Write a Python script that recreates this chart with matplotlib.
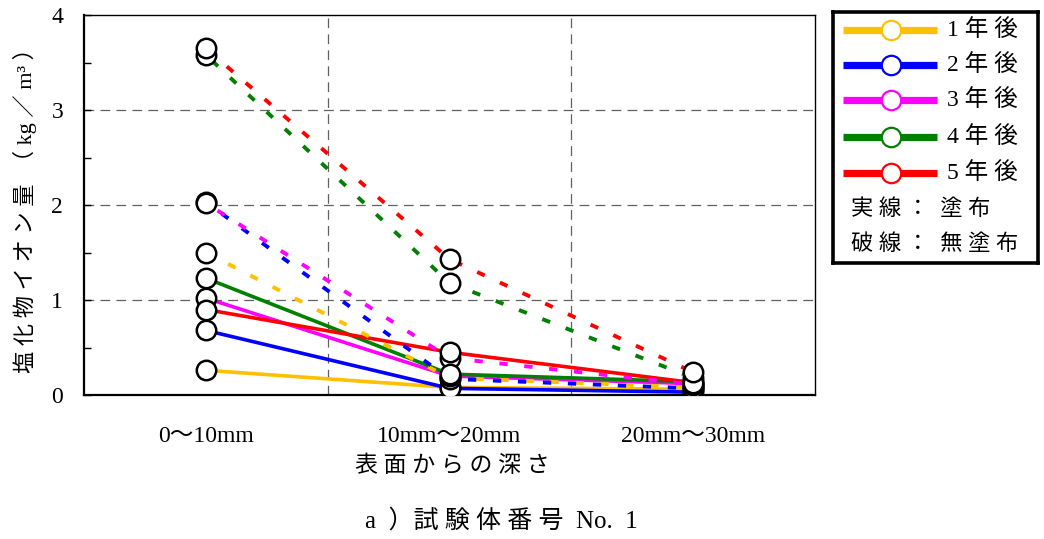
import matplotlib
matplotlib.use("Agg")
import matplotlib.pyplot as plt
import numpy as np

plt.rcParams['lines.scale_dashes'] = False
FAM = ['Liberation Serif', 'Noto Sans CJK JP', 'DejaVu Sans']
plt.rcParams['font.family'] = FAM

# ---- data ----
categories = ['0～10mm', '10mm～20mm', '20mm～30mm']
series_labels = ['1 年 後', '2 年 後', '3 年 後', '4 年 後', '5 年 後']
colors = ['#FFC000', '#0000FF', '#FF00FF', '#008000', '#FF0000']

coated_1 = [0.26, 0.08, 0.06]
coated_2 = [0.68, 0.07, 0.03]
coated_3 = [1.02, 0.20, 0.12]
coated_4 = [1.23, 0.22, 0.14]
coated_5 = [0.90, 0.45, 0.13]

uncoated_1 = [1.50, 0.18, 0.08]
uncoated_2 = [2.03, 0.17, 0.07]
uncoated_3 = [2.02, 0.39, 0.11]
uncoated_4 = [3.58, 1.18, 0.18]
uncoated_5 = [3.65, 1.43, 0.24]

coated = [coated_1, coated_2, coated_3, coated_4, coated_5]
uncoated = [uncoated_1, uncoated_2, uncoated_3, uncoated_4, uncoated_5]

yticks = [0, 1, 2, 3, 4]

W, H = 1044, 539
fig = plt.figure(figsize=(W / 100, H / 100), dpi=100)
L, R, T, B = 84, 815, 15, 395
ax = fig.add_axes([L / W, 1 - B / H, (R - L) / W, (B - T) / H])

x = np.arange(len(categories))
ax.set_xlim(-0.5, len(categories) - 0.5)
ax.set_ylim(0, 4)

# grid
for yv in [1, 2, 3]:
    ax.axhline(yv, color='#606060', lw=0.9, dashes=(7, 4.5), zorder=1)
for xv in [0.5, 1.5]:
    ax.axvline(xv, color='#606060', lw=0.9, dashes=(7, 4.5), zorder=1)

offsets = [0, 4, 8, 12, 16]
for i in range(5):
    ax.plot(x, coated[i], color=colors[i], lw=2.6, zorder=2 + i * 0.01,
            solid_capstyle='butt')
for i in range(5):
    ax.plot(x, uncoated[i], color=colors[i], lw=2.8, zorder=2.1 + i * 0.01,
            linestyle=(offsets[i], (6, 12)), dash_capstyle='butt')
for i in range(5):
    ax.plot(x, coated[i], linestyle='none', marker='o', ms=14, mfc='white',
            mec='black', mew=1.8, zorder=4)
    ax.plot(x, uncoated[i], linestyle='none', marker='o', ms=14, mfc='white',
            mec='black', mew=1.8, zorder=4)

ax.set_xticks(x)
ax.set_xticklabels(categories, fontsize=17)
ax.tick_params(axis='x', length=0, pad=22)
ax.set_yticks(yticks)
ax.set_yticklabels([str(v) for v in yticks], fontsize=17)
ax.set_yticks(np.arange(0, 4.01, 0.5), minor=True)
ax.tick_params(axis='y', which='both', direction='in', length=5, width=1, pad=15)
for s in ax.spines.values():
    s.set_color('black')
    s.set_linewidth(1.0)
ax.spines['bottom'].set_linewidth(1.6)
ax.spines['left'].set_linewidth(1.6)

fig.text(452 / W, 1 - 466 / H, '表 面 か ら の 深 さ', ha='center', va='center',
         fontsize=16.5)
fig.text(25 / W, 1 - 205 / H, '塩 化 物 イ オ ン 量  （ kg ／ m³ ）', ha='center',
         va='center', rotation=90, fontsize=16)
fig.text(501 / W, 1 - 521 / H, 'a  ）試 験 体 番 号  No.  1', ha='center',
         va='center', fontsize=18)

# legend (manual, in pixel-like coordinates)
lx0, lx1, ly0, ly1 = 833, 1038, 12, 263
lax = fig.add_axes([lx0 / W, 1 - ly1 / H, (lx1 - lx0) / W, (ly1 - ly0) / H])
lax.set_xlim(lx0, lx1)
lax.set_ylim(ly1, ly0)
lax.set_xticks([])
lax.set_yticks([])
for s in lax.spines.values():
    s.set_linewidth(2.6)
    s.set_color('black')
rows = [30, 65, 100, 137, 173]
for i in range(5):
    lax.plot([843, 937], [rows[i], rows[i]], color=colors[i], lw=5.2,
             solid_capstyle='butt')
    lax.plot([891], [rows[i]], marker='o', ms=14, mfc='white', mec=colors[i],
             mew=1.6)
    lax.text(947, rows[i], series_labels[i], fontsize=17, va='center', ha='left')
lax.text(851, 210, '実 線 ：  塗 布', fontsize=16, va='center', ha='left')
lax.text(851, 245, '破 線 ：  無 塗 布', fontsize=16, va='center', ha='left')

fig.savefig('out.png', dpi=100)
